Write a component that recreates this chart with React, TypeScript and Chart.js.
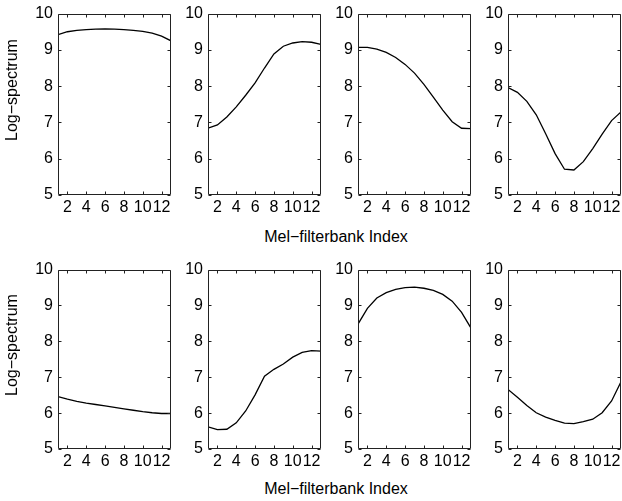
import React, { useEffect, useRef } from "react";
import { Chart, registerables } from "chart.js";

Chart.register(...registerables);

// ---- data ----
const melIndex = [1, 2, 3, 4, 5, 6, 7, 8, 9, 10, 11, 12, 13];
const xTickValues = [2, 4, 6, 8, 10, 12];
const yTickValues = [5, 6, 7, 8, 9, 10];
const xAxisTitle = "Mel\u2212filterbank Index";
const yAxisTitle = "Log\u2212spectrum";

const frame1 = [9.42, 9.5, 9.54, 9.56, 9.57, 9.575, 9.57, 9.56, 9.54, 9.51, 9.46, 9.38, 9.25];
const frame2 = [6.84, 6.93, 7.15, 7.43, 7.75, 8.09, 8.5, 8.89, 9.1, 9.19, 9.23, 9.21, 9.15];
const frame3 = [9.07, 9.07, 9.02, 8.93, 8.79, 8.6, 8.36, 8.05, 7.7, 7.34, 7.02, 6.84, 6.83];
const frame4 = [7.96, 7.83, 7.58, 7.21, 6.69, 6.14, 5.71, 5.69, 5.92, 6.28, 6.68, 7.05, 7.29];
const frame5 = [6.46, 6.39, 6.33, 6.28, 6.24, 6.2, 6.16, 6.12, 6.08, 6.04, 6.01, 5.99, 5.99];
const frame6 = [5.62, 5.54, 5.55, 5.73, 6.06, 6.51, 7.03, 7.22, 7.37, 7.56, 7.69, 7.74, 7.73];
const frame7 = [8.48, 8.92, 9.21, 9.36, 9.45, 9.5, 9.51, 9.48, 9.42, 9.31, 9.12, 8.81, 8.37];
const frame8 = [6.66, 6.44, 6.21, 6.01, 5.89, 5.8, 5.72, 5.71, 5.76, 5.83, 6.01, 6.34, 6.87];

const seriesList = [frame1, frame2, frame3, frame4, frame5, frame6, frame7, frame8];

// ---- layout ----
const FONT = '"Liberation Sans", Arial, sans-serif';
const colLefts = [58, 208, 358, 508];
const rowTops = [7, 263];
const rowHeights = [188, 186];
const PLOT_W = 113;
const PAD_L = 40;
const PAD_T = 8;
const PAD_R = 6;
const PAD_B = 30;

const boxTicks = {
  id: "boxTicks",
  afterDraw(chart: any) {
    const { ctx, chartArea: a, scales } = chart;
    const x = scales.x;
    const y = scales.y;
    const L = Math.round(a.left) + 0.5;
    const R = Math.round(a.right) - 0.5;
    const T = Math.round(a.top) + 0.5;
    const B = Math.round(a.bottom) - 0.5;
    ctx.save();
    ctx.strokeStyle = "#222";
    ctx.lineWidth = 1;
    ctx.beginPath();
    ctx.rect(L, T, R - L, B - T);
    const len = 3;
    xTickValues.forEach((v) => {
      const px = Math.round(x.getPixelForValue(v)) + 0.5;
      ctx.moveTo(px, B);
      ctx.lineTo(px, B - len);
      ctx.moveTo(px, T);
      ctx.lineTo(px, T + len);
    });
    yTickValues.forEach((v) => {
      const py = Math.round(y.getPixelForValue(v)) + 0.5;
      ctx.moveTo(L, py);
      ctx.lineTo(L + len, py);
      ctx.moveTo(R, py);
      ctx.lineTo(R - len, py);
    });
    ctx.stroke();
    ctx.restore();
  },
};

function Panel({ values, left, top, height }: { values: number[]; left: number; top: number; height: number }) {
  const ref = useRef<HTMLCanvasElement | null>(null);
  const cw = PAD_L + PLOT_W + PAD_R;
  const ch = PAD_T + height + PAD_B;
  useEffect(() => {
    if (!ref.current) return;
    const chart = new Chart(ref.current, {
      type: "line",
      data: {
        datasets: [
          {
            data: melIndex.map((m, i) => ({ x: m, y: values[i] })),
            borderColor: "#000",
            borderWidth: 1.3,
            pointRadius: 0,
            tension: 0,
            fill: false,
          },
        ],
      },
      options: {
        responsive: false,
        animation: false,
        events: [],
        layout: { padding: { top: PAD_T, right: PAD_R, left: 0, bottom: 0 } },
        plugins: { legend: { display: false }, tooltip: { enabled: false }, title: { display: false } },
        scales: {
          x: {
            type: "linear",
            min: 1,
            max: 13,
            grid: { display: false, drawTicks: false },
            border: { display: false },
            afterBuildTicks: (s: any) => {
              s.ticks = xTickValues.map((v) => ({ value: v }));
            },
            afterFit: (s: any) => {
              s.height = PAD_B;
            },
            ticks: {
              autoSkip: false,
              maxRotation: 0,
              minRotation: 0,
              padding: 3,
              color: "#000",
              font: { family: FONT, size: 16 },
              callback: (v: any) => String(v),
            },
          },
          y: {
            type: "linear",
            min: 5,
            max: 10,
            grid: { display: false, drawTicks: false },
            border: { display: false },
            afterBuildTicks: (s: any) => {
              s.ticks = yTickValues.map((v) => ({ value: v }));
            },
            afterFit: (s: any) => {
              s.width = PAD_L;
            },
            ticks: {
              autoSkip: false,
              padding: 5,
              color: "#000",
              font: { family: FONT, size: 16 },
              callback: (v: any) => String(v),
            },
          },
        },
      },
      plugins: [boxTicks],
    } as any);
    return () => chart.destroy();
  }, [values, height]);
  return (
    <canvas
      ref={ref}
      width={cw}
      height={ch}
      style={{ position: "absolute", left: left - PAD_L, top: top - PAD_T, width: cw, height: ch }}
    />
  );
}

export default function App() {
  const titleStyle: React.CSSProperties = {
    position: "absolute",
    fontFamily: FONT,
    fontSize: 16,
    color: "#000",
    whiteSpace: "nowrap",
    lineHeight: 1,
  };
  return (
    <div
      style={{
        position: "absolute",
        left: 0,
        top: 0,
        width: 622,
        height: 501,
        overflow: "hidden",
        background: "#fff",
      }}
    >
      {seriesList.map((vals, i) => {
        const r = Math.floor(i / 4);
        const c = i % 4;
        return <Panel key={i} values={vals} left={colLefts[c]} top={rowTops[r]} height={rowHeights[r]} />;
      })}
      {[237, 489].map((cy, i) => (
        <div key={"xt" + i} style={{ ...titleStyle, left: 336, top: cy, transform: "translate(-50%, -50%)" }}>
          {xAxisTitle}
        </div>
      ))}
      {[90, 345].map((cy, i) => (
        <div
          key={"yt" + i}
          style={{ ...titleStyle, left: 12, top: cy, transform: "translate(-50%, -50%) rotate(-90deg)" }}
        >
          {yAxisTitle}
        </div>
      ))}
    </div>
  );
}
